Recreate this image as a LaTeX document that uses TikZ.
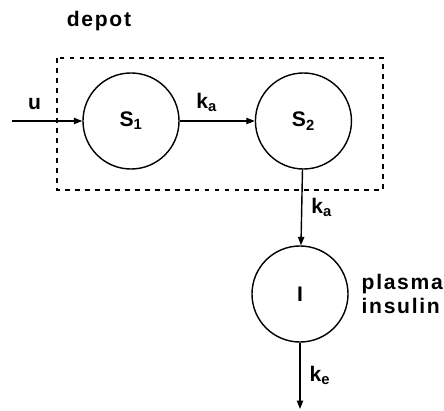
\documentclass[tikz,border=0pt]{standalone}
\usepackage{fontspec}
\setmainfont[LetterSpace=8]{Liberation Sans}
\usetikzlibrary{arrows.meta,positioning}

\begin{document}
\begin{tikzpicture}[x=0.025cm,y=-0.025cm,
  every node/.style={font=\bfseries\fontsize{15}{17}\selectfont},
  comp/.style={draw,circle,line width=1pt,minimum size=2.4cm,inner sep=0pt},
  flow/.style={-{Triangle[length=6pt,width=4.5pt]},line width=1pt}]
\useasboundingbox (0,0) rectangle (444,411);
% depot
\draw[line width=1.5pt,dash pattern=on 3.5pt off 3.6pt] (57,58) rectangle (383,190);
\node[anchor=base] (depot) at (99,27) {depot};
\node[comp] (S1) at (131,121) {S\textsubscript{1}};
\node[comp,right=1.875cm of S1] (S2) {S\textsubscript{2}};
% plasma
\node[comp] (I) at (300,294) {I};
\node[right=0.2cm of I,align=left] (plasma) {plasma\\insulin};
\coordinate (in) at (12,121);
\coordinate (out) at (300,409);
\draw[flow] (in) -- node[pos=0.32,above=4pt] {u} (S1);
\draw[flow] (S1) -- node[pos=0.36,above=3pt] {k\textsubscript{a}} (S2);
\draw[flow] (S2) -- node[midway,right=3pt] {k\textsubscript{a}} (I);
\draw[flow] (I) -- node[midway,right=3pt] {k\textsubscript{e}} (out);
\end{tikzpicture}
\end{document}
